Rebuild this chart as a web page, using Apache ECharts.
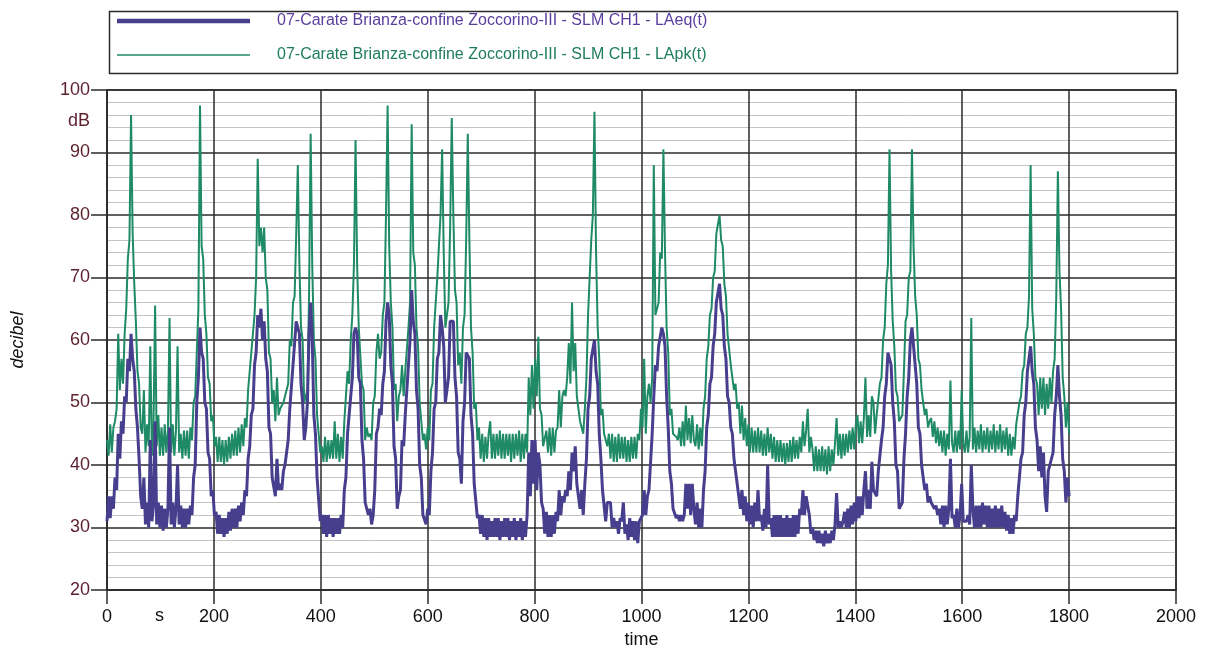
<!DOCTYPE html>
<html>
<head>
<meta charset="utf-8">
<script src="https://cdn.jsdelivr.net/npm/echarts@6/dist/echarts.min.js"></script>
<style>
html,body{margin:0;padding:0;background:#fff;}
#chart{width:1205px;height:652px;}
</style>
</head>
<body>
<div id="chart"></div>
<script>
// ---- DATA ----
const seriesNames = [
  '07-Carate Brianza-confine Zoccorino-III - SLM CH1 - LAeq(t)',
  '07-Carate Brianza-confine Zoccorino-III - SLM CH1 - LApk(t)'
];
const sampleStepSeconds = 3; // one reading every 3 s, t = 0 ... 1800 s
const xTicks = [0, 200, 400, 600, 800, 1000, 1200, 1400, 1600, 1800, 2000];
const yTicks = [20, 30, 40, 50, 60, 70, 80, 90, 100];

// LAeq(t), dB — each row covers 60 s (t = 0,3,6,...)
const laeq = [
  31,35,31.5,35,33,38,36,45,41,47,45,51,50,57,55,61,57,55,49,46,
  41,35,33,38,30.5,34,30,44,31,33.5,47,30.5,34,30,33.5,29.5,33,30,33,46,
  30.5,34,30,33,40,30.5,33.5,30,33,30,33,30.5,33.5,32,38,40,50,54,62,58,
  57,50,49,42,41,35,36,32,32.5,29,32,29,31.5,28.5,31.5,29,32.5,29.5,33,30,
  33,30,33.5,31,34,32,36,35,41,43,48,49,56,58,64,62,65,60,63,57,
  55,46,45,38,38,35,41,36,37,36,39,40,42,44,49,49,56,56,63,62,
  61,53,50,44,46,50,61,66,60,48,45,38,38,31,32,29,32,28.5,32,29,
  31.5,28.5,31.5,29,31.5,29,32,30,36,38,45,45,51,54,61,62,61,54,53,44,
  41,34,34,32,33,30.5,32,36,45,46,49,48,53,55,63,66,64,56,53,43,
  41,33,35,36,44,43,48,48,56,60,68,63,61,52,49,40,38,32,32,30.5,
  33,32,39,42,49,50,57,58,64,62,59,50,52,54,63,63,63,54,51,42,
  41,37,47,50,58,58,57,48,45,37,37,31.5,32,29,32,28.5,31.5,28,31.5,28.5,
  31,28.5,31.5,28.5,31.5,28,31,28.5,31.5,28.5,31.5,28,31,28.5,31.5,28,31,28.5,31.5,28,
  31,28.5,32,42,35,44,37,44,36,42,40,34,33,29,32.5,28.5,32,28.5,32,29,
  32.5,31,36,32,35,34,36,35,39,36,42,39,43,37,37,33,36,32,37,41,
  49,51,57,57,60,55,53,45,41,36,36,31,34,34,34,30,31.5,30,31,29,
  31.5,31,34,29,30.5,28,31.5,28.5,31,28,31,27.5,31,31,32,36,32,35,36,36,
  45,51,56,55,59,59,62,61,59,51,46,39,37,33,33,31.5,32,31,32,31,
  32,37,33,37,32,37,33,30.5,34,30,33,30,36,39,46,48,53,54,59,61,
  66,66,69,65,64,59,57,51,50,46,45,41,41,37,37,33,36,32,35,31,
  34,30.5,33.5,30,34,31,36,31,32,29.5,33,30,40,30.5,31.5,28.5,32,28.5,32,28.5,
  32,28.5,31.5,28.5,32,28.5,31.5,28.5,32,28.5,32,29,33,32,36,32,35,35,32,29,
  30,28,29.5,27.5,29.5,27.5,29,27,29.5,27.5,29,27.5,29.5,28,30.5,35.5,30,31,30,31,
  32.5,30,33,30,33.5,30.5,34,31,35,31.5,35,32,36,39,33,36,33,40.5,36,36,
  35,39,39,44,46,51,53,58,57,56,50,47,40,39,33,33,34,41,45,51,
  54,60,62,62,56,53,46,45,40,40,36,37,34,35,34,34,33,33.5,32,33,
  30.5,33.5,30,33.5,30.5,33,41,31.5,32,30,33,30,32,37,31,31,31,32,30.5,40,
  33,30,33.5,30,33.5,30,34,30.5,33.5,30,33.5,30,33,30,33.5,30,33,30,33.5,30,
  32.5,29.5,32,29,31.5,29,32,31,35,35,41,42,48,50,55,55,59,55,53,46,
  44,39,43,38,42,35,32.5,39,40,41,42,48,51,56,51,48,41,39,34,38,
  35
];

// LApk(t), dB — each row covers 60 s (t = 0,3,6,...)
const lapk = [
  44,41.5,46.5,42,46,47,49,61,52,57,53,61,65,73,76,96,77,69,63,55,
  53,46,45,52,42,46.5,43,59,41.5,46.5,65.5,43,48,41.5,46,41.5,46.5,42,45.5,63.5,
  42,46.5,41.5,45.5,59,42,45,41,45.5,41.5,45.5,41,46,44,50,51,58,65,97.5,75,
  73,64,61,54,53,47,48,43,44.5,40.5,44.5,40.5,44,40,44,40.5,44.5,41,45,41.5,
  45.5,41.5,46,42,46.5,43,47.5,46,52,52,58,58,64,70,89,75,78,74,78,70,
  68,58,57,50,52,47,54,48,49,49,50,50,52,53,60,59,66,67,77,88,
  72,62,60,50,50,52,67,93,72,60,57,48,48,42,43,40.5,44.5,40.5,44,41,
  44,41,47,41,45,40.5,44.5,41,47,47,55,53,60,64,72,92,72,62,62,53,
  52,44,46,44.5,45,44,50,51,58,61,57,58,64,66,80,97.5,75,66,62,52,
  53,47,51,52,56,51,55,55,62,66,94.5,74,72,62,59,50,50,44,45,42.5,
  46,44,52,53,62,62,70,70,80,90.5,74,62,64,66,78,95.5,80,68,66,56,
  58,53,62,64,76,93,76,62,58,49,50,44,46,41,45,40.5,44.5,41,45,47,
  41,45,41,45,41.5,45.5,41,45,41,45,41.5,45,40.5,45,41,45,41.5,45.5,40.5,45,
  41,45,42,54,48,56,49,57,51,60.5,49,48,43,43,45.5,42,46,41.5,46,42,
  45.5,46,52,46,51,52,51,54,59.5,53,66,55,59.5,51,51,47,47,45,49,54,
  64,64,76,80,96.5,74,62,57,48,49,45,44,43,45,41,45,40.5,44.5,40.5,45,
  41,44.5,41,44.5,40.5,44,40.5,44.5,41,44.5,41,45,44,49,46,57,45,51,53,50,
  54,88,64,64,66,74,73,90.5,74,62,58,48,49,45,45,44.5,44,46,43,47,
  43,49.5,44,47.5,43.5,48,44,43,46.5,42.5,46,43,49,51,57,59,64,65,70,71,
  77,77,80,76,75,69,67,61,61,56,56,52,53,49,50,45,49.5,44,47.5,43,
  46.5,42,46,42,45.5,42,46,42,45.5,41.5,45,41.5,46,42,45,41,44.5,40.5,44,40.5,
  44,40.5,43.5,40,43.5,40.5,44,40.5,44.5,41,44,41,44.5,42,47,43,45.5,49,42,44.5,
  42.5,39,43,39,42.5,39,43,39,42.5,38.5,43,39,42.5,40,43.5,47.5,41.5,45,41,45,
  41.5,45,42,45.5,42.5,46,42.5,46.5,48,43.5,47,43.5,47.5,54,44.5,48,44.5,51,50,45,
  48,48,53,54,60,62,69,72,90.5,71,63,59,52,51,47,47,48,55,63,64,
  70,71,90.5,75,67,64,57,56,52,52,48,49,46,47,47.5,44.5,47,43.5,46,43,
  45.5,42,45.5,41.5,45,42.5,53.5,43.5,42,45.5,42,45.5,42.5,52,43.5,42,45.5,42,44.5,63.5,
  42.5,46,42,45.5,42.5,46.5,42,45.5,42.5,46,42,45.5,42.5,46.5,42,45.5,42.5,46.5,42,45.5,
  42.5,46,41.5,45,41.5,44.5,42.5,46.5,46.5,50,51,55,56,61,62,67,88,65,61,54,
  53,48,54,49,54,48,53,49,54,50,55,57,67,87,71,65,54,51,46,50,
  45
];

// ---- CHART ----
const FONT = "'Liberation Sans', Arial, Helvetica, sans-serif";
const COL_EQ = '#473f8e';
const COL_PK = '#1f8a66';
const toPairs = arr => arr.map((v, i) => [i * sampleStepSeconds, v]);

const chart = echarts.init(document.getElementById('chart'), null, {renderer: 'canvas'});
chart.setOption({
  animation: false,
  backgroundColor: '#ffffff',
  grid: {left: 107, right: 29, top: 90, bottom: 62, containLabel: false, outerBoundsMode: 'none',
    show: true, borderColor: '#2b2b2b', borderWidth: 1.5, backgroundColor: 'transparent'},
  legend: {
    orient: 'vertical', left: 112, top: 8, itemWidth: 133, itemHeight: 14, itemGap: 18,
    textStyle: {fontSize: 16, fontFamily: FONT, padding: [0, 0, 0, 22]},
    data: [
      {name: seriesNames[0], icon: 'path://M0,0H133V4.5H0Z', textStyle: {color: '#5a3e9e'}},
      {name: seriesNames[1], icon: 'path://M0,0H133V1.6H0Z', textStyle: {color: '#1e7d5a'}}
    ]
  },
  graphic: [
    {type: 'rect', left: 107, top: 9, shape: {width: 1068, height: 62}, style: {fill: 'none', stroke: '#2b2b2b', lineWidth: 1.5}, silent: true, z: 0},
    {type: 'text', left: 155, top: 607, style: {text: 's', fontSize: 18, fontFamily: FONT, fill: '#111'}},
    {type: 'text', left: 68, top: 112, style: {text: 'dB', fontSize: 18, fontFamily: FONT, fill: '#5c1f2e'}}
  ],
  xAxis: {
    type: 'value', min: 0, max: 2000, interval: 200,
    name: 'time', nameLocation: 'middle', nameGap: 38,
    nameTextStyle: {fontSize: 18, fontFamily: FONT, color: '#111'},
    axisLine: {show: true, lineStyle: {color: '#2b2b2b', width: 1.5}},
    axisTick: {show: true, inside: false, length: 14, lineStyle: {color: '#2b2b2b', width: 1.5}},
    axisLabel: {fontSize: 18, fontFamily: FONT, color: '#111', margin: 18,
      formatter: v => xTicks.includes(v) ? String(v) : ''},
    splitLine: {show: true, lineStyle: {color: '#2b2b2b', width: 1.5}}
  },
  yAxis: {
    type: 'value', min: 20, max: 100, interval: 10,
    name: 'decibel', nameLocation: 'middle', nameGap: 80, nameRotate: 90,
    nameTextStyle: {fontSize: 18, fontFamily: FONT, color: '#111', fontStyle: 'italic'},
    axisLine: {show: true, lineStyle: {color: '#2b2b2b', width: 1.5}},
    axisTick: {show: true, inside: false, length: 16, lineStyle: {color: '#2b2b2b', width: 1.5}},
    axisLabel: {fontSize: 18, fontFamily: FONT, color: '#5c1f2e', margin: 17,
      formatter: v => yTicks.includes(v) ? String(v) : ''},
    splitLine: {show: true, lineStyle: {color: '#2b2b2b', width: 1.5}},
    minorTick: {show: false, splitNumber: 5},
    minorSplitLine: {show: true, lineStyle: {color: '#c4c4c4', width: 1}}
  },
  series: [
    {name: seriesNames[1], type: 'line', data: toPairs(lapk), symbol: 'none', z: 2,
      lineStyle: {color: COL_PK, width: 2}, itemStyle: {color: COL_PK}},
    {name: seriesNames[0], type: 'line', data: toPairs(laeq), symbol: 'none', z: 3,
      lineStyle: {color: COL_EQ, width: 3}, itemStyle: {color: COL_EQ}}
  ]
});
</script>
</body>
</html>
